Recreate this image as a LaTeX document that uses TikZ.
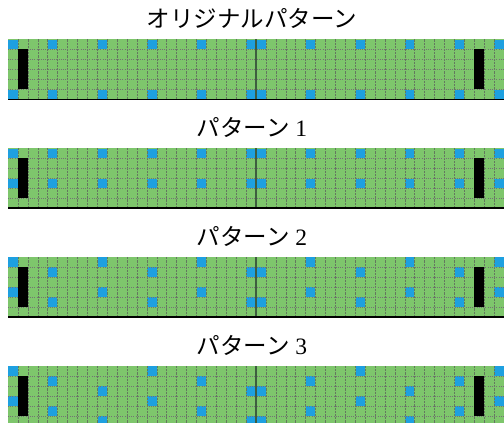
\documentclass[tikz,border=0pt]{standalone}
\usepackage{fontspec}
\setmainfont{Liberation Serif}
\newfontfamily\jp{Noto Sans CJK JP}
\usepackage{tikz}
\definecolor{cellgreen}{RGB}{126,198,108}
\definecolor{cellblue}{RGB}{30,160,224}
\definecolor{midline}{RGB}{62,92,64}
\definecolor{gridgray}{RGB}{100,120,95}

\begin{document}
\begin{tikzpicture}[
			x=1pt, y=-1pt,
			title/.style={font=\fontsize{23.5}{27}\selectfont, anchor=center, inner sep=0pt},
			vline/.style={gridgray, line width=0.45pt, dash pattern=on 2.2pt off 1pt},
			hline/.style={black!55, line width=0.4pt, dash pattern=on 0.9pt off 1.3pt},
			blue cell/.style={fill=cellblue},
			black cell/.style={fill=black}
			]
			\def\cw{9.92}
			\def\ch{10}
			\useasboundingbox (0,0) rectangle (504,423);
			\clip (0,0) rectangle (504,423);
			% one band per pattern: top / row step / second row / title
			\foreach \top/\m/\gap/\ttl [count=\g] in {39.3/1/5/{\jp オリジナルパターン}, 148.2/1/3/{{\jp パターン} 1}, 257.1/2/3/{{\jp パターン} 2}, 366/3/3/{{\jp パターン} 3}} {
				\node[title] (t\g) at (252,\top-21) {\ttl};
				\fill[cellgreen] (8,\top) rectangle (504,\top+6*\ch);
				% blue cells, mirrored left/right
				\foreach \c [count=\k from 0] in {0,4,9,14,19,24} {
					\pgfmathtruncatemacro\r{mod(\k,\m)}
					\pgfmathtruncatemacro\rr{\r+\gap}
					\pgfmathtruncatemacro\cc{49-\c}
					\foreach \col in {\c,\cc}
						\foreach \row in {\r,\rr}
							\fill[blue cell] (8+\col*\cw+0.3,\top+\row*\ch+0.3) rectangle ++(\cw-0.6,\ch-0.6);
				}
				% grid lines
				\foreach \j in {1,...,49}
					\draw[vline] (8+\j*\cw,\top) -- (8+\j*\cw,\top+6*\ch);
				\foreach \i in {1,...,5}
					\draw[hline] (8,\top+\i*\ch) -- (504,\top+\i*\ch);
				\draw[midline, line width=1.2pt] (8+25*\cw,\top) -- (8+25*\cw,\top+6*\ch);
				% black markers
				\fill[black cell] (8+1*\cw,\top+\ch) rectangle (8+2*\cw,\top+5*\ch);
				\fill[black cell] (8+47*\cw,\top+\ch) rectangle (8+48*\cw,\top+5*\ch);
				\draw[black, line width=1.5pt] (8,\top+6*\ch) -- (504,\top+6*\ch);
			}
		\end{tikzpicture}
\end{document}
